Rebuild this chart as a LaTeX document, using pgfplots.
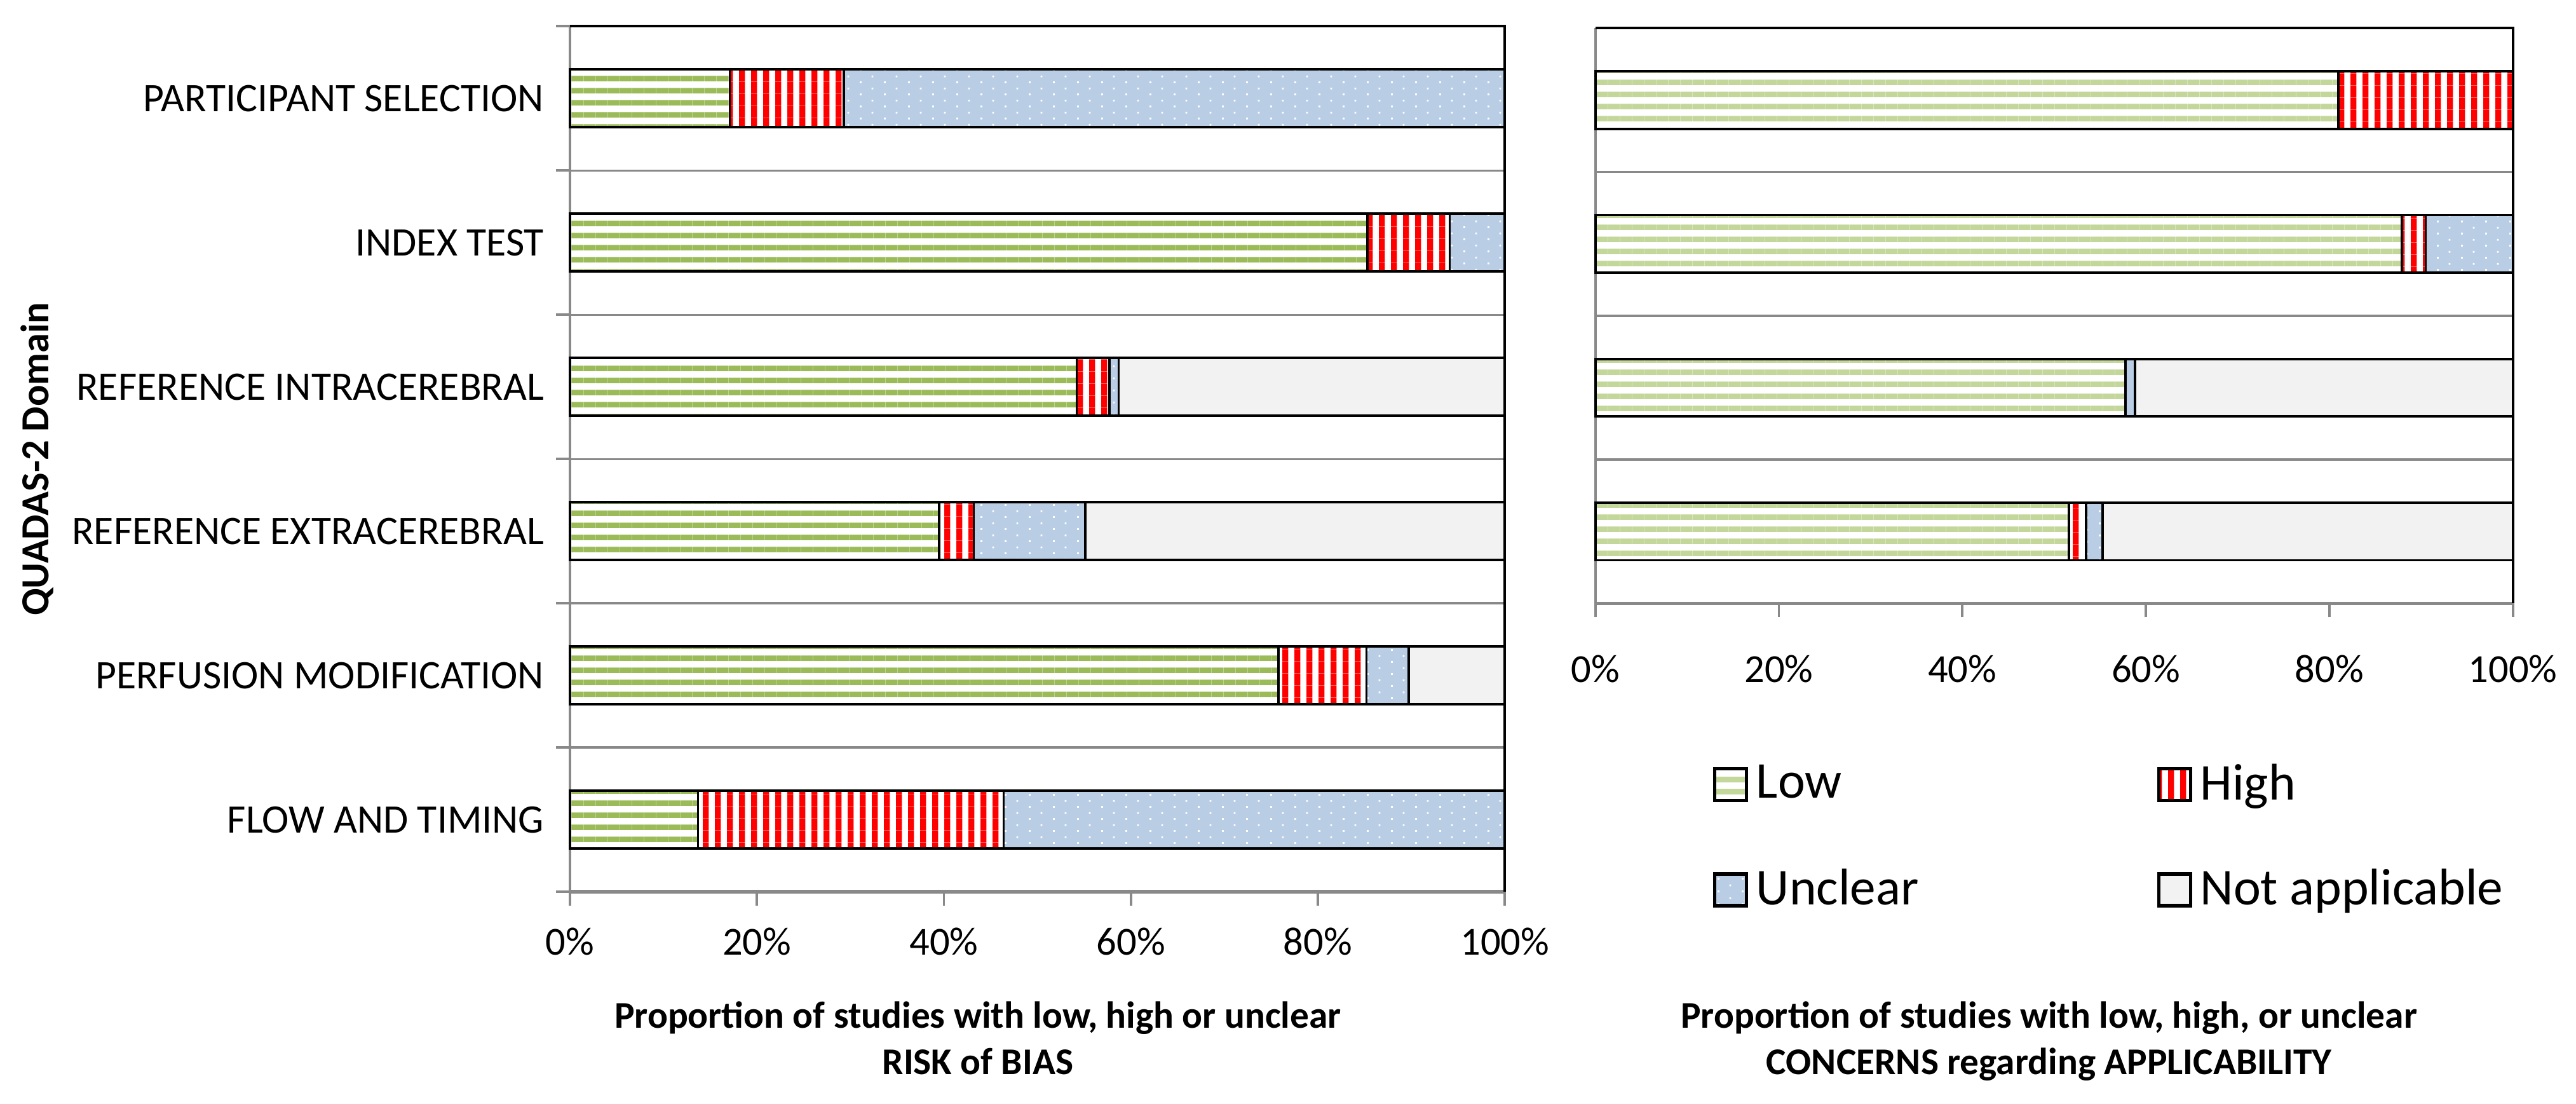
\documentclass[border=0pt]{standalone}
\usepackage{fontspec}
\setmainfont{Carlito}
\usepackage{pgfplots}
\pgfplotsset{compat=1.18}
\usetikzlibrary{patterns}

\definecolor{lowgreen}{HTML}{9BBB59}
\definecolor{lowlight}{HTML}{C4D79B}
\definecolor{highred}{HTML}{FF0000}
\definecolor{unclblue}{HTML}{B9CDE5}
\definecolor{nagray}{HTML}{F2F2F2}
\definecolor{axgray}{HTML}{898989}

% fill patterns (colour comes from pattern color)
\pgfdeclarepatternformonly{hstripes}{\pgfqpoint{0pt}{0pt}}{\pgfqpoint{3pt}{3pt}}{\pgfqpoint{3pt}{3pt}}{%
  \pgfpathrectangle{\pgfqpoint{0pt}{0pt}}{\pgfqpoint{3pt}{1.4pt}}\pgfusepath{fill}}
\pgfdeclarepatternformonly{vstripes}{\pgfqpoint{0pt}{0pt}}{\pgfqpoint{3pt}{3pt}}{\pgfqpoint{3pt}{3pt}}{%
  \pgfpathrectangle{\pgfqpoint{0pt}{0pt}}{\pgfqpoint{1.5pt}{3pt}}\pgfusepath{fill}}
\pgfdeclarepatternformonly{wdots}{\pgfqpoint{0pt}{0pt}}{\pgfqpoint{6pt}{3.1pt}}{\pgfqpoint{6pt}{3.1pt}}{%
  \pgfpathrectangle{\pgfqpoint{0.5pt}{0.5pt}}{\pgfqpoint{0.45pt}{0.45pt}}%
  \pgfpathrectangle{\pgfqpoint{3.5pt}{2.05pt}}{\pgfqpoint{0.45pt}{0.45pt}}\pgfusepath{fill}}

\pgfplotsset{
  lowL/.style={draw=black, line width=0.6pt, preaction={fill=white}, pattern=hstripes, pattern color=lowgreen},
  lowR/.style={draw=black, line width=0.6pt, preaction={fill=white}, pattern=hstripes, pattern color=lowlight},
  high/.style={draw=black, line width=0.6pt, preaction={fill=white}, pattern=vstripes, pattern color=highred},
  uncl/.style={draw=black, line width=0.6pt, preaction={fill=unclblue}, pattern=wdots, pattern color=white},
  na/.style={draw=black, line width=0.6pt, fill=nagray},
  qstyle/.style={
    xbar stacked, bar width=0.4, scale only axis, clip=false,
    xmin=0, xmax=100, xtick={0,20,...,100},
    xticklabels={0\%,20\%,40\%,60\%,80\%,100\%},
    tick pos=left, tick align=outside, major tick length=3.5pt,
    tick style={axgray, line width=0.6pt},
    axis line style={draw=none},
    ymajorgrids, major grid style={axgray, line width=0.55pt},
    yticklabels={},
    ticklabel style={font=\fontsize{10}{12}\selectfont},
    xlabel style={font=\bfseries\fontsize{9.5}{11.8}\selectfont, align=center, anchor=north},
    ylabel style={font=\bfseries\fontsize{10}{12}\selectfont},
  },
}

\begin{document}
\begin{tikzpicture}
% RISK of BIAS
\begin{axis}[qstyle, at={(0pt,0pt)}, anchor=south west,
  width=235.4pt, height=217.9pt,
  ymin=-0.5, ymax=5.5, ytick={-0.5,0.5,...,5.5},
  extra y ticks={0,1,2,3,4,5},
  extra y tick labels={FLOW AND TIMING,PERFUSION MODIFICATION,REFERENCE EXTRACEREBRAL,REFERENCE INTRACEREBRAL,INDEX TEST,PARTICIPANT SELECTION},
  extra y tick style={major tick length=0pt, grid=none,
    yticklabel style={font=\fontsize{10.2}{12}\selectfont, xshift=-3pt}},
  xticklabel style={yshift=-2pt},
  xlabel={Proportion of studies with low, high or unclear\\RISK of BIAS},
  xlabel style={at={(axis description cs:0.5,0)}, yshift=-24pt, xshift=-15pt},
  ylabel={QUADAS-2 Domain},
  ylabel style={at={(axis description cs:-0.57,0.5)}, anchor=center},
]
\addplot[lowL] coordinates {(13.7,0) (75.8,1) (39.5,2) (54.2,3) (85.3,4) (17.1,5)};
\addplot[high] coordinates {(32.7,0) (9.4,1) (3.7,2) (3.5,3) (8.8,4) (12.2,5)};
\addplot[uncl] coordinates {(53.6,0) (4.5,1) (11.9,2) (1.0,3) (5.9,4) (70.7,5)};
\addplot[na] coordinates {(0,0) (10.3,1) (44.9,2) (41.3,3) (0,4) (0,5)};
\draw[black, line width=0.6pt] (rel axis cs:0,1) -- (rel axis cs:1,1) -- (rel axis cs:1,0);
\draw[axgray, line width=0.6pt] (rel axis cs:0,1) -- (rel axis cs:0,0);
\draw[axgray, line width=0.9pt] (rel axis cs:0,0) -- (rel axis cs:1,0);
\end{axis}

% CONCERNS regarding APPLICABILITY
\begin{axis}[qstyle, at={(258.2pt,72.6pt)}, anchor=south west,
  width=231pt, height=144.8pt,
  ymin=1.5, ymax=5.5, ytick={1.5,2.5,...,5.5},
  ytick style={draw=none},
  xticklabel style={yshift=-6pt},
  xlabel={Proportion of studies with low, high, or unclear\\CONCERNS regarding APPLICABILITY},
  xlabel style={at={(axis description cs:0.5,0)}, yshift=-96.6pt, xshift=-1.3pt},
  legend columns=2,
  legend style={at={([xshift=1pt,yshift=1.5pt]axis description cs:0.11,-0.26)}, anchor=north west, draw=none, fill=none,
    font=\fontsize{13}{15}\selectfont, row sep=12pt,
    /tikz/every even column/.append style={column sep=58pt}},
  legend cell align=left,
  legend image code/.code={\draw[#1, line width=0.9pt] (0pt,-4pt) rectangle (8pt,4pt);},
]
\addplot[lowR] coordinates {(51.6,2) (57.8,3) (87.9,4) (81.0,5)};
\addplot[high] coordinates {(1.9,2) (0,3) (2.6,4) (19.0,5)};
\addplot[uncl] coordinates {(1.8,2) (1.0,3) (9.5,4) (0,5)};
\addplot[na] coordinates {(44.7,2) (41.2,3) (0,4) (0,5)};
\legend{Low,High,Unclear,Not applicable}
\draw[black, line width=0.6pt] (rel axis cs:0,1) -- (rel axis cs:1,1) -- (rel axis cs:1,0);
\draw[axgray, line width=0.6pt] (rel axis cs:0,1) -- (rel axis cs:0,0);
\draw[axgray, line width=0.9pt] (rel axis cs:0,0) -- (rel axis cs:1,0);
\end{axis}

\pgfresetboundingbox
\path[use as bounding box] (-143.5pt,-53.4pt) rectangle (505.1pt,224.5pt);
\end{tikzpicture}
\end{document}
